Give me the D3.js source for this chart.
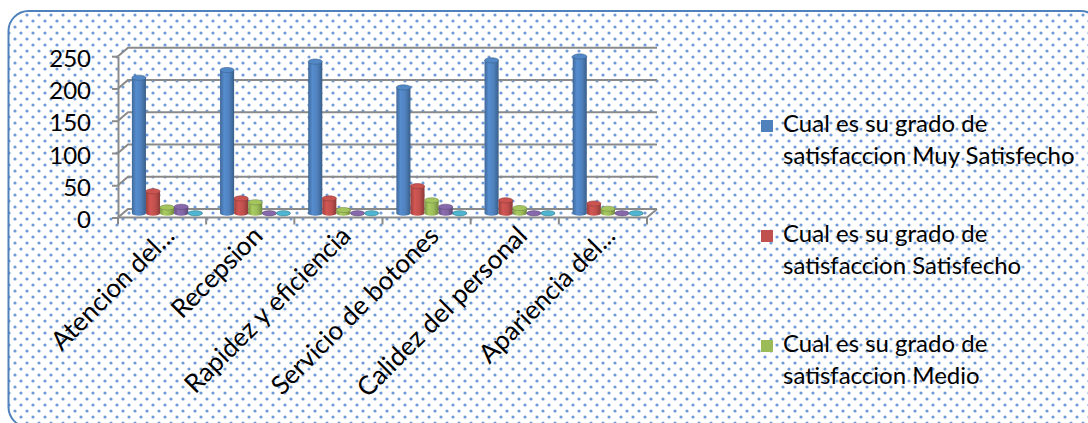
<!DOCTYPE html>
<html>
<head>
<meta charset="utf-8">
<script src="https://cdn.jsdelivr.net/npm/d3@7"></script>
<style>
  html, body { margin: 0; padding: 0; background: #fff; }
  svg { display: block; font-family: Lato, "Open Sans", sans-serif; }
</style>
</head>
<body>
<div id="chart"></div>
<script>
// data
const categories = ["Atencion del...", "Recepsion", "Rapidez y eficiencia", "Servicio de botones", "Calidez del personal", "Apariencia del..."];
const seriesNames = [
    "Cual es su grado de satisfaccion Muy Satisfecho",
    "Cual es su grado de satisfaccion Satisfecho",
    "Cual es su grado de satisfaccion Medio",
    "Cual es su grado de satisfaccion Poco Satisfecho",
    "Cual es su grado de satisfaccion Insatisfecho"
];
const muySatisfecho = [210, 222, 235, 195, 237, 243];
const satisfecho = [34, 23, 23, 42, 20, 15];
const medio = [9, 17, 5, 20, 8, 7];
const pocoSatisfecho = [10, 0, 0, 10, 0, 0];
const insatisfecho = [0, 0, 0, 0, 0, 0];
const yTicks = [0, 50, 100, 150, 200, 250];
const seriesColors = ["#4f81bd", "#c0504d", "#9bbb59", "#8064a2", "#4bacc6"];

const seriesValues = [muySatisfecho, satisfecho, medio, pocoSatisfecho, insatisfecho];

(function() {
    const width = 1088, height = 423;
    const depthX = 10, depthY = -8.5;   // front -> back wall offset

    const svg = d3.select("#chart").append("svg")
        .attr("width", width)
        .attr("height", height);

    const defs = svg.append("defs");

    // dotted fill like the excel pattern
    const pat = defs.append("pattern")
        .attr("id", "dots")
        .attr("patternUnits", "userSpaceOnUse")
        .attr("width", 12)
        .attr("height", 12);
    pat.append("rect").attr("width", 12).attr("height", 12).attr("fill", "#fff");
    [[3, 3], [9, 9]].forEach(p => {
        pat.append("circle").attr("cx", p[0]).attr("cy", p[1]).attr("r", 1.6).attr("fill", "#6f9ad6");
    });

    // cylinder gradients
    seriesColors.forEach((c, i) => {
        const g = defs.append("linearGradient").attr("id", "cyl" + i)
            .attr("x1", "0%").attr("x2", "100%").attr("y1", "0%").attr("y2", "0%");
        const base = d3.color(c);
        g.append("stop").attr("offset", "0%").attr("stop-color", base.darker(0.6));
        g.append("stop").attr("offset", "30%").attr("stop-color", base.brighter(0.25));
        g.append("stop").attr("offset", "65%").attr("stop-color", base);
        g.append("stop").attr("offset", "100%").attr("stop-color", base.darker(0.9));
    });

    // chart area frame
    svg.append("rect")
        .attr("x", 8.5).attr("y", 11)
        .attr("width", 1092).attr("height", 416)
        .attr("rx", 20)
        .attr("fill", "url(#dots)")
        .attr("stroke", "#4f81bd")
        .attr("stroke-width", 2);

    // scales (back wall is the value plane)
    const yBack = d3.scaleLinear().domain([0, 250]).range([209, 47.7]);
    const yFront = v => yBack(v) - depthY;
    const yMid = v => yBack(v) - depthY / 2;

    const x0 = d3.scaleBand().domain(categories).range([118, 647]);
    const x1 = d3.scaleBand().domain(seriesNames).range([0, x0.bandwidth()]).paddingOuter(0.63);

    const xLeft = x0.range()[0], xRight = x0.range()[1];
    const gridColor = "#8a8a8a";

    // gridlines on back wall with side diagonals
    svg.append("g").selectAll("path")
        .data(yTicks)
        .join("path")
        .attr("fill", "none")
        .attr("stroke", gridColor)
        .attr("stroke-width", 2)
        .attr("d", d => `M${xLeft},${yFront(d)}L${xLeft + depthX},${yBack(d)}L${xRight + depthX},${yBack(d)}`);

    // floor
    svg.append("path")
        .attr("fill", "none")
        .attr("stroke", gridColor)
        .attr("stroke-width", 2)
        .attr("d", `M${xLeft},${yFront(0)}L${xRight},${yFront(0)}L${xRight + depthX},${yBack(0)}`);

    // y axis on the front edge
    const yScaleFront = d3.scaleLinear().domain([0, 250]).range([yFront(0), yFront(250)]);
    const yAxis = svg.append("g")
        .attr("transform", `translate(${xLeft},0)`)
        .call(d3.axisLeft(yScaleFront).tickValues(yTicks).tickSize(6).tickSizeOuter(0).tickPadding(21));
    yAxis.select(".domain").attr("stroke", gridColor).attr("stroke-width", 2);
    yAxis.selectAll(".tick line").attr("stroke", gridColor).attr("stroke-width", 2);
    yAxis.selectAll(".tick text")
        .attr("fill", "#000")
        .attr("dy", "0.42em")
        .style("font-size", "24px")
        .style("font-family", "Lato, sans-serif");

    // x ticks at category boundaries
    const bounds = categories.map(c => x0(c)).concat([xRight]);
    svg.append("g").selectAll("line")
        .data(bounds)
        .join("line")
        .attr("x1", d => d).attr("x2", d => d)
        .attr("y1", yFront(0)).attr("y2", yFront(0) + 7)
        .attr("stroke", gridColor)
        .attr("stroke-width", 2);

    // category labels
    svg.append("g").selectAll("text")
        .data(categories)
        .join("text")
        .attr("transform", d => `translate(${x0(d) + x0.bandwidth() / 2 + 14},${yFront(0) + 20}) rotate(-45)`)
        .attr("text-anchor", "end")
        .style("font-size", "26px")
        .attr("fill", "#000")
        .text(d => d);

    // cylinders
    const bars = [];
    categories.forEach((c, ci) => {
        seriesNames.forEach((s, si) => {
            bars.push({cat: c, series: s, si: si, value: seriesValues[si][ci]});
        });
    });

    const ry = 2.6;
    const barG = svg.append("g").selectAll("g")
        .data(bars)
        .join("g")
        .attr("transform", d => `translate(${x0(d.cat) + x1(d.series) + depthX / 2},0)`);

    const bw = x1.bandwidth();
    barG.append("ellipse")
        .attr("cx", bw / 2).attr("cy", yMid(0))
        .attr("rx", bw / 2).attr("ry", ry)
        .attr("fill", d => `url(#cyl${d.si})`);
    barG.append("rect")
        .attr("x", 0).attr("width", bw)
        .attr("y", d => yMid(d.value))
        .attr("height", d => yMid(0) - yMid(d.value))
        .attr("fill", d => `url(#cyl${d.si})`);
    barG.append("ellipse")
        .attr("cx", bw / 2).attr("cy", d => yMid(d.value))
        .attr("rx", bw / 2).attr("ry", ry)
        .attr("fill", d => d3.color(seriesColors[d.si]).brighter(0.15))
        .attr("stroke", d => d3.color(seriesColors[d.si]).darker(0.8))
        .attr("stroke-width", 0.6);

    // legend: only the first three entries fit inside the frame
    const legend = svg.append("g").attr("transform", "translate(761,120)");
    const items = legend.selectAll("g")
        .data(seriesNames.slice(0, 3))
        .join("g")
        .attr("transform", (d, i) => `translate(0,${i * 110})`);
    items.append("rect")
        .attr("width", 12).attr("height", 12)
        .attr("fill", (d, i) => seriesColors[i]);
    const lt = items.append("text")
        .style("font-size", "24px")
        .attr("fill", "#000");
    lt.append("tspan").attr("x", 22).attr("y", 12).text("Cual es su grado de");
    lt.append("tspan").attr("x", 22).attr("y", 44).text(d => d.replace("Cual es su grado de ", ""));
})();
</script>
</body>
</html>
